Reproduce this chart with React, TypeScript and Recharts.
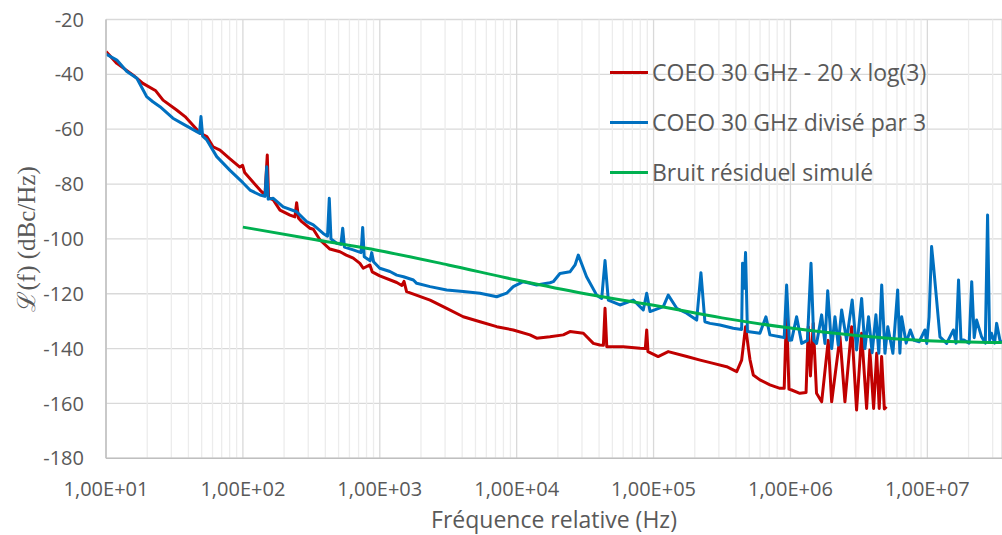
import { LineChart, Line, XAxis, YAxis, CartesianGrid, Legend, ReferenceLine } from 'recharts';

const C = {
  red: '#C00000',
  blue: '#0070C0',
  green: '#00B050',
  text: '#595959',
  grid: '#d9d9d9',
  minor: '#ececec',
  axis: '#bfbfbf',
};

const FONT = '"Open Sans", "Noto Sans", sans-serif';

// ─── Axes ───────────────────────────────────────────────────────

const xDomain: [number, number] = [10, 3.51e7];
const xTicks = [1e1, 1e2, 1e3, 1e4, 1e5, 1e6, 1e7];
const yTicks = [-180, -160, -140, -120, -100, -80, -60, -40, -20];
const minorTicks = xTicks
  .flatMap((d) => [2, 3, 4, 5, 6, 7, 8, 9].map((m) => m * d))
  .filter((v) => v < xDomain[1]);

// ─── Series: [frequency (Hz), L(f) (dBc/Hz)] ────────────────────

const redName = 'COEO 30 GHz - 20 x log(3)';
const blueName = 'COEO 30 GHz divisé par 3';
const greenName = 'Bruit résiduel simulé';
const legendOrder = [redName, blueName, greenName];

const redPoints: [number, number][] = [
  [10, -31.7], [12, -36], [15.7, -40.2], [18.6, -43.3], [23.1, -46], [26.1, -49.4],
  [32.8, -53], [37.8, -55.4], [48.6, -61.4], [54.5, -62.7], [60.5, -66.4], [68, -67.6],
  [80.5, -70.8], [95, -73.8], [99.5, -73.2], [103, -75.8], [133.4, -82.2], [145, -84],
  [150.7, -69.4], [154, -85], [166.7, -85.8], [186.6, -89.5], [220.8, -91.3], [240, -92],
  [247, -86.8], [255, -92.5], [269, -93.7], [309, -96.1], [327, -96.5], [366, -100.4],
  [432, -103.7], [512, -104.7], [569, -105.9], [640, -107], [716, -108.9], [757, -110.7],
  [847, -109.5], [880, -112], [1000, -113.5], [1330, -115.9], [1450, -117], [1503, -115.5],
  [1570, -119.2], [2330, -122.3], [3080, -125.3], [4070, -128.4], [5400, -130.2],
  [7150, -132], [9440, -133.2], [12500, -135], [14000, -136.2], [17500, -135.7],
  [21900, -135], [24500, -133.8], [30700, -134.4], [36300, -138.1], [40500, -138.7],
  [43000, -138.8], [44200, -125.3], [45500, -139.3], [60000, -139.3], [79600, -139.9],
  [87000, -140], [89100, -133.2], [91000, -141.1], [108000, -142.9], [128000, -141.1],
  [175000, -142.9], [219000, -144.2], [273000, -145.4], [342000, -146.6], [405000, -148.4],
  [440000, -144.2], [470000, -132], [491000, -139.3], [506000, -144], [535000, -149.6],
  [598000, -151.4], [708000, -153.2], [838000, -154.5], [900000, -154.5], [937000, -126],
  [975000, -154.8], [1020000, -155.1], [1170000, -156.3], [1300000, -156], [1350000, -132],
  [1400000, -150], [1466000, -130.8], [1550000, -156.3], [1690000, -159.4], [1888000, -137],
  [2000000, -159.4], [2301000, -135.7], [2500000, -159.4], [2800000, -132], [3040000, -162.4],
  [3311000, -134.4], [3600000, -161.8], [3800000, -140.5], [4050000, -161.8], [4266000, -141.7],
  [4450000, -161.8], [4634000, -142.9], [4850000, -162], [5030000, -161.2],
];

const bluePoints: [number, number][] = [
  [10, -32.6], [12, -34.8], [14.2, -39], [16.8, -41.4], [19.8, -48.1], [22, -50],
  [24.8, -51.8], [30.8, -56], [37.8, -58.5], [46, -60.9], [48.2, -61.5], [49.4, -55.4],
  [50.8, -62.5], [54.5, -63.9], [64.4, -70], [80.5, -75], [100, -79.5], [112.7, -82.2],
  [133.4, -84], [145, -84.5], [149.3, -73.7], [153, -85.5], [166.7, -85.2], [197, -88.3],
  [247, -90.1], [292, -93.7], [327, -94.9], [386, -98], [415, -99], [427.6, -85.2],
  [440, -100], [484, -101.6], [520, -102], [536, -96.1], [552, -103], [640, -104],
  [730, -105], [750, -95.8], [770, -106.5], [850, -108], [873, -105], [900, -108.3],
  [1000, -110.7], [1186, -111.9], [1330, -113.2], [1490, -113.8], [1760, -115], [1860, -116.2],
  [2330, -117.4], [3080, -118.6], [4070, -119.2], [5400, -119.8], [7150, -121.1],
  [8450, -119.8], [9440, -117.4], [11170, -115.6], [12500, -116.2], [14000, -116.8],
  [17500, -116], [18500, -115.6], [20700, -112.6], [24500, -112], [26700, -109.5],
  [28200, -105.9], [32400, -113.8], [38400, -120.5], [41800, -121.7], [44200, -107.9],
  [46700, -122.3], [56800, -124.1], [71100, -122.3], [84100, -125.9], [89100, -119.8],
  [94200, -126.5], [117800, -124.7], [128000, -120.5], [147600, -125.3], [174600, -127.1],
  [206500, -129.6], [221800, -112.3], [237100, -130.2], [258200, -130.8], [305500, -131.4],
  [382000, -132.6], [440000, -133], [446700, -108.9], [458000, -118], [469900, -105],
  [485000, -133.8], [598000, -134.4], [662000, -128.4], [708000, -135], [837500, -135.7],
  [900000, -136], [937600, -116.8], [980000, -137], [1020000, -136.9], [1109000, -128.4],
  [1208000, -138.1], [1330000, -137], [1413000, -108.9], [1480000, -137], [1552000, -138.1],
  [1690000, -127.7], [1786000, -138.1], [1871000, -118.9], [2000000, -140], [2113000, -128.4],
  [2234000, -138.7], [2366000, -125.9], [2570000, -136.9], [2825000, -122.3], [3041000, -140.5],
  [3311000, -121.7], [3500000, -140], [3720000, -128.4], [3950000, -141.5], [4210000, -127.7],
  [4420000, -141.7], [4640000, -116.8], [4900000, -141.7], [5140000, -132], [5600000, -141.7],
  [6070000, -118.6], [6300000, -141.7], [6490000, -128.4], [7000000, -138], [7510000, -133.2],
  [8000000, -137], [8720000, -137.5], [9600000, -133.2], [9900000, -138.1], [10300000, -128.4],
  [10740000, -102.8], [11100000, -110], [11690000, -122.3], [12360000, -135.7], [13840000, -138.1],
  [15500000, -133.2], [16200000, -138], [16900000, -115], [17600000, -136.9], [18500000, -136.9],
  [20200000, -138], [21090000, -115.6], [22000000, -136], [22900000, -129.6], [24900000, -135.7],
  [26500000, -138], [27540000, -91.3], [28500000, -137], [29400000, -134.4], [31000000, -138],
  [32060000, -130.8], [33880000, -136.9], [35000000, -138],
];

const greenPoints: [number, number][] = [
  [100, -95.7], [316, -100], [1000, -104.3], [3160, -109.5], [10000, -115], [31600, -120],
  [100000, -124.2], [316000, -128.8], [1000000, -132.5], [3160000, -135.3],
  [10000000, -137.1], [35000000, -137.8],
];

const toRows = (pts: [number, number][]) => pts.map(([f, v]) => ({ f, v }));

const fmtX = (v: number) => `1,00E+${String(Math.round(Math.log10(v))).padStart(2, '0')}`;

// ─── Legend ─────────────────────────────────────────────────────

function LegendBox({ payload }: { payload?: { value: string; color: string }[] }) {
  const items = [...(payload || [])].sort(
    (a, b) => legendOrder.indexOf(a.value) - legendOrder.indexOf(b.value),
  );
  return (
    <div>
      {items.map((e) => (
        <div key={e.value} style={{ display: 'flex', alignItems: 'center', height: 50 }}>
          <span style={{ display: 'inline-block', width: 38, height: 3, background: e.color, marginRight: 4 }} />
          <span style={{ fontSize: 23, color: C.text, fontFamily: FONT, whiteSpace: 'nowrap' }}>{e.value}</span>
        </div>
      ))}
    </div>
  );
}

// ─── Chart ──────────────────────────────────────────────────────

export default function App() {
  return (
    <div style={{ position: 'absolute', left: 0, top: 0, width: 1002, height: 535, background: '#fff', fontFamily: FONT }}>
      <LineChart width={1002} height={535} margin={{ top: 19.5, right: 0, bottom: 0, left: 0 }}>
        {minorTicks.map((v) => (
          <ReferenceLine key={v} x={v} stroke={C.minor} strokeWidth={1.3} />
        ))}
        <CartesianGrid stroke={C.grid} strokeWidth={1.3} />
        <XAxis
          type="number"
          dataKey="f"
          scale="log"
          domain={xDomain}
          ticks={xTicks}
          allowDataOverflow
          tickFormatter={fmtX}
          height={76.7}
          tickLine={false}
          tickMargin={17.5}
          axisLine={{ stroke: C.axis, strokeWidth: 1.5 }}
          tick={{ fill: C.text, fontSize: 20, fontFamily: FONT }}
          label={{
            value: 'Fréquence relative (Hz)',
            position: 'insideBottom',
            offset: 7,
            style: { fill: C.text, fontSize: 23, fontFamily: FONT },
          }}
        />
        <YAxis
          type="number"
          domain={[-180, -20]}
          ticks={yTicks}
          width={106}
          tickLine={false}
          tickMargin={16}
          axisLine={{ stroke: C.axis, strokeWidth: 1.5 }}
          tick={{ fill: C.text, fontSize: 20, fontFamily: FONT }}
          label={{
            value: 'ℒ(f) (dBc/Hz)',
            angle: -90,
            position: 'insideLeft',
            offset: 26,
            style: { fill: C.text, fontSize: 25, fontFamily: '"Liberation Serif", "DejaVu Serif", serif', textAnchor: 'middle' },
          }}
        />
        <Legend
          layout="vertical"
          align="center"
          verticalAlign="middle"
          content={<LegendBox />}
          wrapperStyle={{ left: 610, top: 47, width: 380, height: 150 }}
        />
        <Line
          data={toRows(redPoints)}
          dataKey="v"
          name={redName}
          stroke={C.red}
          strokeWidth={3}
          strokeLinejoin="round"
          dot={false}
          type="linear"
          isAnimationActive={false}
        />
        <Line
          data={toRows(bluePoints)}
          dataKey="v"
          name={blueName}
          stroke={C.blue}
          strokeWidth={3}
          strokeLinejoin="round"
          dot={false}
          type="linear"
          isAnimationActive={false}
        />
        <Line
          data={toRows(greenPoints)}
          dataKey="v"
          name={greenName}
          stroke={C.green}
          strokeWidth={3}
          dot={false}
          type="monotone"
          isAnimationActive={false}
        />
      </LineChart>
    </div>
  );
}
